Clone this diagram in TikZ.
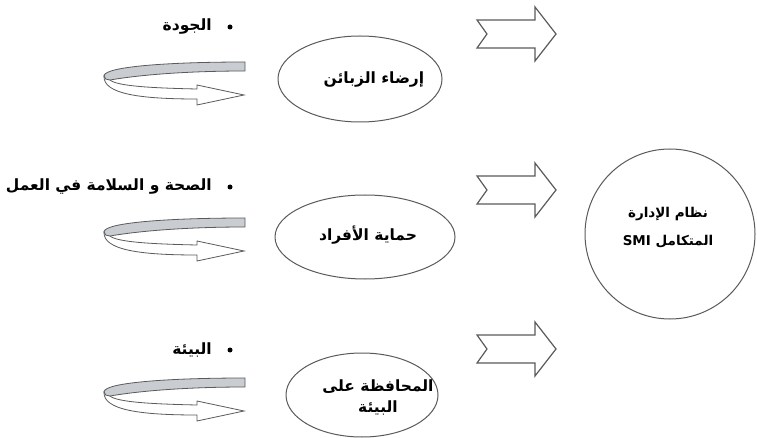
\documentclass[tikz,border=0pt]{standalone}
\usepackage{fontspec}
\setmainfont{DejaVu Sans}
\newfontfamily\arabicfont[Script=Arabic]{DejaVu Sans}
\TeXXeTstate=1
\usetikzlibrary{shapes.geometric}
\definecolor{edge}{HTML}{5A5A5A}
\definecolor{band}{HTML}{C9CCD1}
\tikzset{
  oval/.style={ellipse, draw=edge, line width=1pt, fill=white, inner sep=0pt},
  bigcircle/.style={circle, draw=edge, line width=1pt, inner sep=0pt},
  artxt/.style={inner sep=0pt, font=\arabicfont\bfseries\fontsize{15.5}{19}\selectfont, text=black},
  circtxt/.style={inner sep=0pt, font=\arabicfont\bfseries\fontsize{13.5}{16}\selectfont, text=black},
  bulletdot/.style={circle, fill=black, inner sep=0pt, minimum size=5pt},
  blockarrow/.pic={
    \draw[edge, line width=1.2pt, fill=white, line join=miter]
      (0,-14) -- (58,-14) -- (58,-27) -- (79,0) -- (58,27) -- (58,14) -- (0,14) -- (10,0) -- cycle;
  },
  uturn/.pic={
    % white lower band with arrowhead
    \draw[edge, line width=0.8pt, fill=white, line join=miter]
      (-141,14) .. controls (-142,32) and (-105,37) .. (-48,37)
      -- (-48,43) -- (-1,33) -- (-48,23) -- (-48,27)
      .. controls (-95,26) and (-128,24) .. (-135,18) -- cycle;
    % grey upper band
    \draw[edge, line width=0.8pt, fill=band]
      (0,0) .. controls (-70,0) and (-141,4) .. (-141,14)
      .. controls (-141,17) and (-138,18) .. (-135,18)
      .. controls (-100,12) and (-50,9) .. (0,9) -- cycle;
  }
}
\begin{document}
\begin{tikzpicture}[x=1pt,y=-1pt]
\useasboundingbox (0,0) rectangle (757,438);

% ellipses
\node[oval, minimum width=164pt, minimum height=86pt] (e1) at (360,79) {};
\node[oval, minimum width=180pt, minimum height=84pt] (e2) at (365,237) {};
\node[oval, minimum width=152pt, minimum height=84pt] (e3) at (362,395) {};

\node[artxt] (t1) at (374,80) {\beginR إرضاء الزبائن\endR};
\node[artxt] (t2) at (368,235) {\beginR حماية الأفراد\endR};
\node[artxt, align=center] (t3) at (378,397) {\beginR المحافظة على\endR\\[2pt]\beginR البيئة\endR};

% big circle
\node[bigcircle, minimum size=170pt] (c) at (670,234) {};
\node[circtxt, align=center] (ct) at (668,228) {\beginR نظام الإدارة\endR\\[12pt]\beginR المتكامل \beginL SMI\endL\endR};

% block arrows
\pic at (477,34) {blockarrow};
\pic at (477,190) {blockarrow};
\pic at (477,349) {blockarrow};

% u-turn arrows
\pic at (245,62) {uturn};
\pic at (245,218) {uturn};
\pic at (245,378) {uturn};

% bullet items
\node[bulletdot] (b1) at (230,27) {};
\node[artxt, anchor=east] (q1) at (212,27) {\beginR الجودة\endR};
\node[bulletdot] (b2) at (230,187) {};
\node[artxt, anchor=east] (q2) at (212,187) {\beginR الصحة و السلامة في العمل\endR};
\node[bulletdot] (b3) at (230,350) {};
\node[artxt, anchor=east] (q3) at (212,350) {\beginR البيئة\endR};
\end{tikzpicture}
\end{document}
